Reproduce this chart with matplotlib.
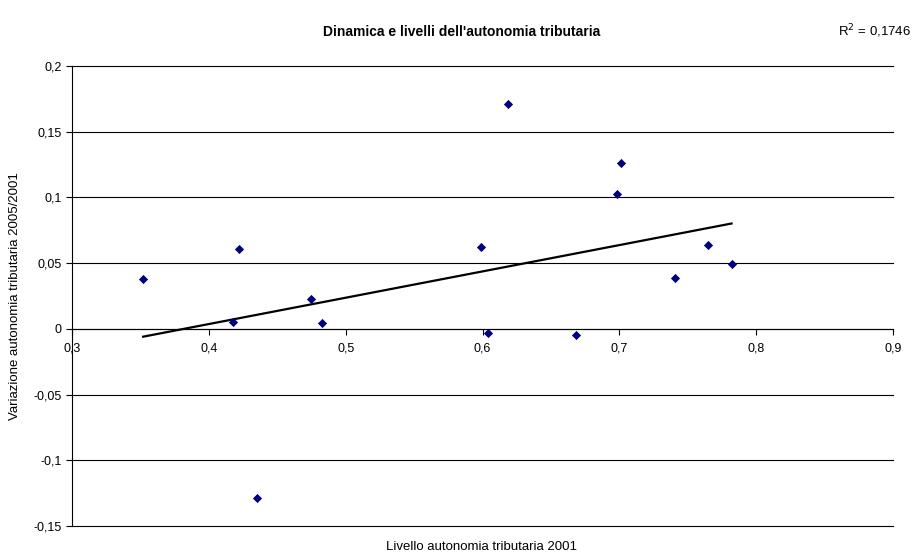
import numpy as np
import matplotlib
matplotlib.use('Agg')
import matplotlib.pyplot as plt
from matplotlib.ticker import FuncFormatter, MultipleLocator

plt.rcParams['font.family'] = ['Liberation Sans', 'DejaVu Sans']

# livello autonomia tributaria 2001 / variazione 2005-2001
livello = [0.352, 0.422, 0.418, 0.475, 0.483, 0.619, 0.701, 0.698,
           0.599, 0.765, 0.782, 0.741, 0.604, 0.668, 0.435]
variazione = [0.038, 0.061, 0.005, 0.023, 0.0045, 0.171, 0.1265, 0.1025,
              0.0625, 0.064, 0.049, 0.0385, -0.0035, -0.005, -0.129]
r2_label = 'R$^2$ = 0,1746'

x = np.array(livello)
y = np.array(variazione)
m, q = np.polyfit(x, y, 1)
xs = np.array([x.min(), x.max()])

fig = plt.figure(figsize=(9.14, 5.54), dpi=100)
ax = fig.add_axes([72/914, 1 - 526/554, (893-72)/914, (526-66)/554])

ax.set_xlim(0.3, 0.9)
ax.set_ylim(-0.15, 0.2)
ax.yaxis.set_major_locator(MultipleLocator(0.05))
ax.xaxis.set_major_locator(MultipleLocator(0.1))

fmt = FuncFormatter(lambda v, p: ('%g' % round(v, 4)).replace('.', ','))
ax.xaxis.set_major_formatter(fmt)
ax.yaxis.set_major_formatter(fmt)

for gy in np.arange(-0.15, 0.21, 0.05):
    ax.axhline(gy, color='black', lw=0.8, zorder=1, clip_on=False)
ax.spines['top'].set_visible(False)
ax.spines['right'].set_visible(False)
ax.spines['bottom'].set_position(('data', 0))
ax.spines['left'].set_linewidth(0.8)
ax.spines['bottom'].set_linewidth(0.8)
ax.tick_params(axis='both', labelsize=9, direction='out', length=4, width=0.8)
ax.tick_params(axis='x', pad=6)

ax.plot(xs, m * xs + q, color='black', lw=1.6, zorder=2)
ax.scatter(x, y, marker='D', s=22, color='#000080', zorder=3, lw=0)

fig.text(462/914, 1 - 32/554, "Dinamica e livelli dell'autonomia tributaria",
         ha='center', va='center', fontsize=10, fontweight='bold')
fig.text(911/914, 1 - 31/554, r2_label, ha='right', va='center', fontsize=9.5)
fig.text(482/914, 1 - 547/554, 'Livello autonomia tributaria 2001',
         ha='center', va='center', fontsize=9.5)
fig.text(15/914, 1 - 296/554, 'Variazione autonomia tributaria 2005/2001',
         ha='center', va='center', fontsize=9.5, rotation=90)

fig.savefig('out.png', dpi=100)
